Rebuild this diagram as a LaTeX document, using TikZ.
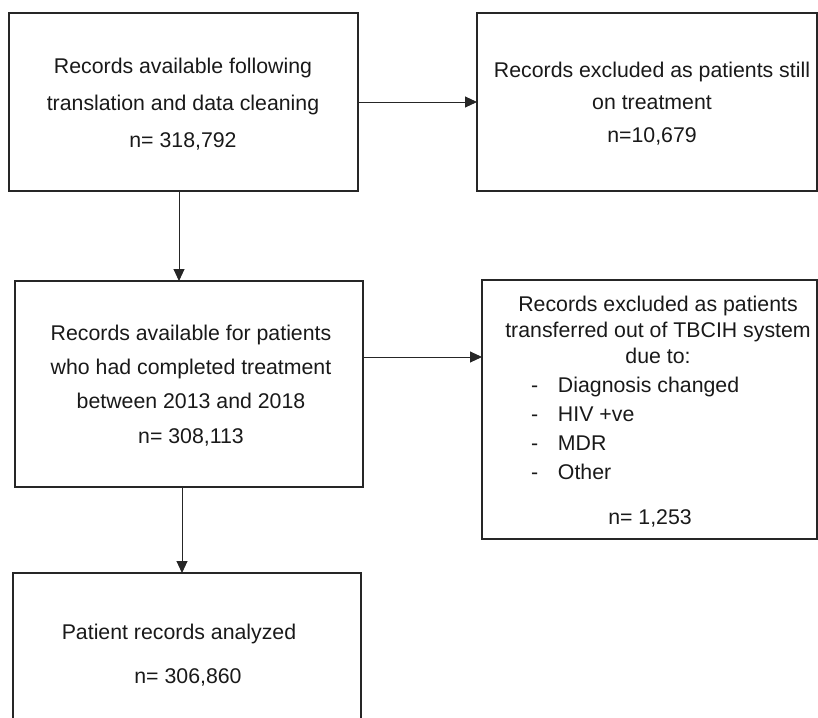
\documentclass[tikz,border=0pt]{standalone}
\usepackage{fontspec}
\setmainfont{Liberation Sans}
\usetikzlibrary{arrows.meta}
\begin{document}
\begin{tikzpicture}[x=1pt,y=-1pt,
  boxnode/.style={draw=black!85, line width=1.3pt, rectangle, inner sep=0pt, outer sep=0pt},
  txt/.style={inner sep=0pt, outer sep=0pt, text=black!90, anchor=north},
  arr/.style={draw=black!85, line width=1pt, -{Triangle[length=12pt,width=11pt]}}]
\path[use as bounding box, clip] (0,0) rectangle (818,717);
% boxes
\node[boxnode, minimum width=349pt, minimum height=178pt] (b1) at (183.5,102) {};
\node[boxnode, minimum width=340pt, minimum height=178pt] (b2) at (647,102) {};
\node[boxnode, minimum width=348pt, minimum height=206pt] (b3) at (189,384) {};
\node[boxnode, minimum width=335pt, minimum height=259pt] (b4) at (649.5,409.5) {};
\node[boxnode, minimum width=348pt, minimum height=200pt] (b5) at (187,673) {};
% texts
\node[txt, align=center, font=\fontsize{21.3}{37}\selectfont] (t1) at (183,57.5)
  {\rule{0pt}{16pt}Records available following\\translation and data cleaning\\n= 318,792};
\node[txt, align=center, font=\fontsize{21.3}{32.5}\selectfont] (t2) at (652,61)
  {\rule{0pt}{16pt}Records excluded as patients still\\on treatment\\n=10,679};
\node[txt, align=center, font=\fontsize{21.3}{34.2}\selectfont] (t3) at (191,324.5)
  {\rule{0pt}{16pt}Records available for patients\\who had completed treatment\\between 2013 and 2018\\n= 308,113};
\node[txt, align=center, font=\fontsize{21.3}{26.3}\selectfont] (t4a) at (658,295)
  {\rule{0pt}{16pt}Records excluded as patients\\transferred out of TBCIH system\\due to:};
\node[txt, anchor=north west, align=left, font=\fontsize{21.3}{29}\selectfont] (t4b) at (531,376)
  {\rule{0pt}{16pt}\makebox[27pt][l]{-}Diagnosis changed\\\makebox[27pt][l]{-}HIV +ve\\\makebox[27pt][l]{-}MDR\\\makebox[27pt][l]{-}Other};
\node[txt, font=\fontsize{21.3}{26}\selectfont] (t4c) at (650,508)
  {\rule{0pt}{16pt}n= 1,253};
\node[txt, font=\fontsize{21.3}{26}\selectfont] (t5a) at (179,623)
  {\rule{0pt}{16pt}Patient records analyzed};
\node[txt, font=\fontsize{21.3}{26}\selectfont] (t5b) at (188,667.5)
  {\rule{0pt}{16pt}n= 306,860};
% connectors
\draw[arr] (b1) -- (b2);
\draw[arr] (b1.south -| 179,0) -- (b3.north -| 179,0);
\draw[arr] (b3.east |- 0,357) -- (b4.west |- 0,357);
\draw[arr] (b3.south -| 182,0) -- (b5.north -| 182,0);
\end{tikzpicture}
\end{document}
